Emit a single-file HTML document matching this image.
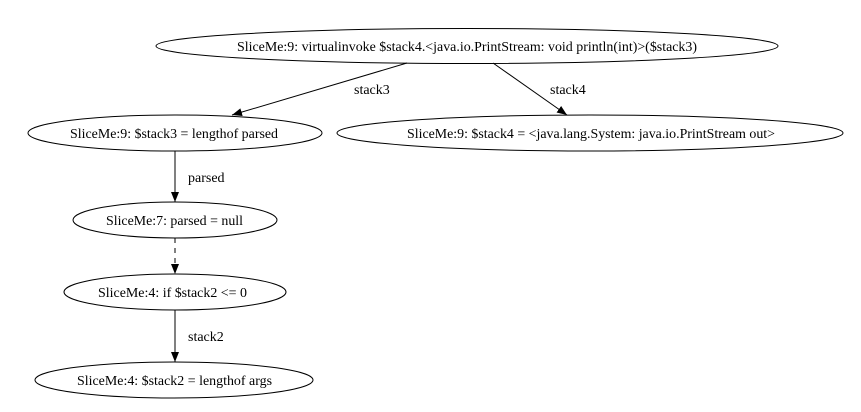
<!DOCTYPE html>
<html><head><meta charset="utf-8"><style>
html,body{margin:0;padding:0;background:#fff;}
svg{display:block;}
text{font-family:"Liberation Serif",serif;font-size:14px;fill:#000;}
</style></head><body>
<svg width="861" height="412" viewBox="0 0 861 412" xmlns="http://www.w3.org/2000/svg">
<defs>
<marker id="a" markerWidth="10" markerHeight="8" refX="10" refY="4" orient="auto" markerUnits="userSpaceOnUse">
<path d="M0,0 L10,4 L0,8 Z" fill="#000"/>
</marker>
</defs>
<g fill="none" stroke="#000" stroke-width="1">
<ellipse cx="467" cy="46" rx="311" ry="17.5"/>
<ellipse cx="175" cy="133" rx="147" ry="18"/>
<ellipse cx="590" cy="133" rx="253" ry="18"/>
<ellipse cx="175" cy="220" rx="102" ry="18"/>
<ellipse cx="175" cy="292" rx="111" ry="18"/>
<ellipse cx="174" cy="380" rx="139" ry="18"/>
<line x1="407" y1="63" x2="232" y2="115" marker-end="url(#a)"/>
<line x1="493" y1="63" x2="567" y2="115" marker-end="url(#a)"/>
<line x1="175" y1="151" x2="175" y2="202" marker-end="url(#a)"/>
<line x1="175" y1="238" x2="175" y2="274" stroke-dasharray="5,5" marker-end="url(#a)"/>
<line x1="175" y1="310" x2="175" y2="362" marker-end="url(#a)"/>
</g>
<g lengthAdjust="spacingAndGlyphs">
<text x="237" y="51" textLength="460" lengthAdjust="spacingAndGlyphs">SliceMe:9: virtualinvoke $stack4.&lt;java.io.PrintStream: void println(int)&gt;($stack3)</text>
<text x="70" y="138" textLength="208" lengthAdjust="spacingAndGlyphs">SliceMe:9: $stack3 = lengthof parsed</text>
<text x="407" y="138" textLength="368" lengthAdjust="spacingAndGlyphs">SliceMe:9: $stack4 = &lt;java.lang.System: java.io.PrintStream out&gt;</text>
<text x="106" y="225" textLength="137" lengthAdjust="spacingAndGlyphs">SliceMe:7: parsed = null</text>
<text x="98" y="297" textLength="149" lengthAdjust="spacingAndGlyphs">SliceMe:4: if $stack2 &lt;= 0</text>
<text x="77" y="385" textLength="195" lengthAdjust="spacingAndGlyphs">SliceMe:4: $stack2 = lengthof args</text>
</g>
<text x="354" y="94">stack3</text>
<text x="550" y="94">stack4</text>
<text x="188" y="182">parsed</text>
<text x="188" y="341">stack2</text>
</svg>
</body></html>
